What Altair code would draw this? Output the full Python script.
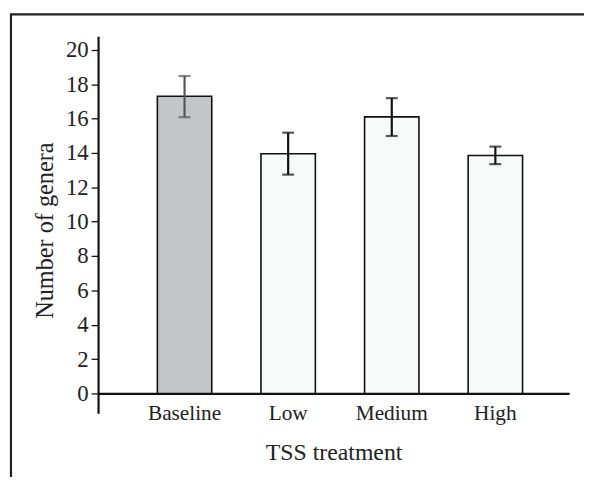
import altair as alt
import pandas as pd

categories = ["Baseline", "Low", "Medium", "High"]
means = [17.3, 13.95, 16.1, 13.85]
err_low = [16.08, 12.74, 14.99, 13.35]
err_high = [18.48, 15.18, 17.19, 14.37]
fills = ["#c3c5c7", "#f8f9f9", "#f8f9f9", "#f8f9f9"]
err_colors = ["#555555", "#111111", "#111111", "#111111"]
y_ticks = [0, 2, 4, 6, 8, 10, 12, 14, 16, 18, 20]

df = pd.DataFrame({
    "cat": categories, "mean": means, "lo": err_low, "hi": err_high,
    "fill": fills, "ecol": err_colors,
})

FONT = "Liberation Serif"
W, H = 476, 381

xscale = alt.Scale(domain=categories, paddingInner=0.475, paddingOuter=0.511, align=0.56)
yscale = alt.Scale(domain=[-1.15, 20.8], nice=False, zero=False)

xaxis = alt.Axis(title="TSS treatment", offset=-20, domainWidth=2.2,
                 domainColor="#111111", ticks=False, labelAngle=0,
                 labelFont=FONT, labelFontSize=21.5, labelColor="#222222",
                 labelPadding=9, labelOverlap=False,
                 titleFont=FONT, titleFontSize=24,
                 titleFontWeight="normal", titleColor="#222222",
                 titlePadding=17)
yaxis = alt.Axis(title="Number of genera", values=y_ticks, grid=False,
                 domainWidth=2.2, domainColor="#111111",
                 tickColor="#111111", tickSize=7, tickWidth=1.3,
                 labelFont=FONT, labelFontSize=23, labelColor="#222222",
                 labelPadding=3, labelOverlap=False, labelFlush=False,
                 titleFont=FONT, titleFontSize=24.5,
                 titleFontWeight="normal", titleColor="#222222",
                 titleX=-53, titleY=196, titleAngle=270,
                 titleBaseline="middle", titleAlign="center")

base = alt.Chart(df)

bars = base.mark_bar(stroke="#111111", strokeWidth=1.6).encode(
    x=alt.X("cat:N", scale=xscale, sort=categories, axis=xaxis),
    y=alt.Y("mean:Q", scale=yscale, axis=yaxis),
    y2=alt.datum(0),
    fill=alt.Fill("fill:N", scale=None),
)

err = base.mark_rule(strokeWidth=2.2).encode(
    x=alt.X("cat:N", scale=xscale, sort=categories, axis=xaxis),
    y=alt.Y("lo:Q", scale=yscale, axis=yaxis),
    y2="hi:Q",
    color=alt.Color("ecol:N", scale=None),
)
cap_lo = base.mark_tick(thickness=2.2, size=12).encode(
    x=alt.X("cat:N", scale=xscale, sort=categories, axis=xaxis),
    y=alt.Y("lo:Q", scale=yscale, axis=yaxis),
    color=alt.Color("ecol:N", scale=None),
)
cap_hi = base.mark_tick(thickness=2.2, size=12).encode(
    x=alt.X("cat:N", scale=xscale, sort=categories, axis=xaxis),
    y=alt.Y("hi:Q", scale=yscale, axis=yaxis),
    color=alt.Color("ecol:N", scale=None),
)

# decorative figure frame (left and top border)
frame_left = alt.Chart(pd.DataFrame({"a": [0]})).mark_rule(color="#222222", strokeWidth=2.2).encode(
    x=alt.value(-88), y=alt.value(-22), y2=alt.value(460))
frame_top = alt.Chart(pd.DataFrame({"a": [0]})).mark_rule(color="#222222", strokeWidth=2.2).encode(
    x=alt.value(-89), x2=alt.value(500), y=alt.value(-22))

chart = alt.layer(bars, err, cap_lo, cap_hi, frame_left, frame_top).properties(
    width=W, height=H,
    autosize=alt.AutoSizeParams(type="none"),
    padding={"left": 91, "top": 26, "right": 15, "bottom": 62},
).configure(background="white").configure_view(stroke=None)

chart.save("out.html", embed_options={"renderer": "svg", "actions": False})
